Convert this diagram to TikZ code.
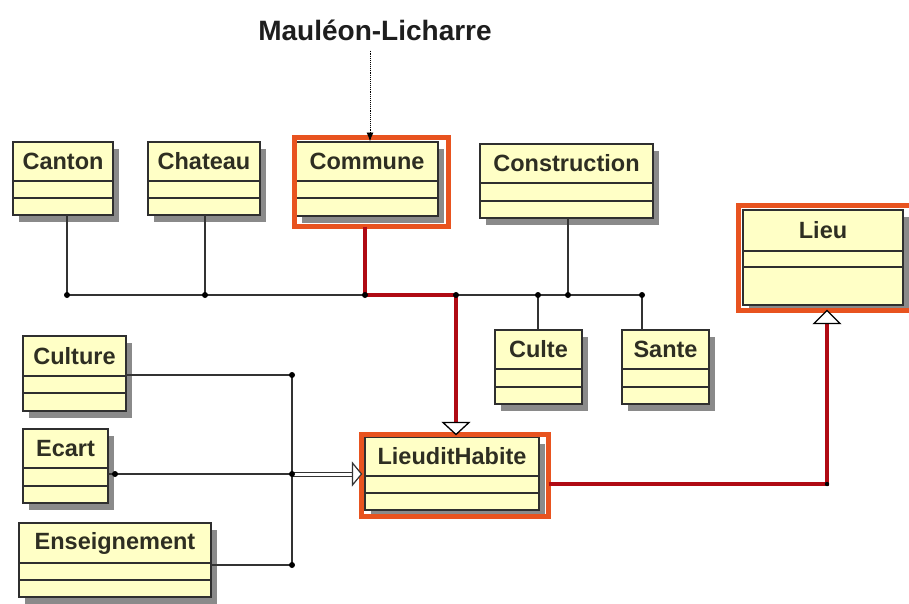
\documentclass[tikz,border=0pt]{standalone}
\usepackage{fontspec}
\setmainfont{Liberation Sans}
\usetikzlibrary{arrows.meta,calc}
\definecolor{boxfill}{HTML}{FFFFC6}
\definecolor{boxline}{HTML}{2F2F2F}
\definecolor{shadowc}{HTML}{8A8A8A}
\definecolor{frameorange}{HTML}{E8531F}
\definecolor{linkred}{HTML}{B00A14}
\definecolor{linkgray}{HTML}{333333}
\definecolor{labelc}{HTML}{2E2E22}
\definecolor{titlec}{HTML}{1E1E1E}
% name, x1, y1, x2, y2, divider1, divider2, label
\newcommand\umlclass[8]{%
  \fill[shadowc] (#2+6,#3+7) rectangle (#4+6,#5+7);
  \node[clsbox, anchor=north west, minimum width={(#4-#2)*1pt}, minimum height={(#5-#3)*1pt}] (#1) at (#2,#3) {};
  \draw[clsline] (#2,#6) -- (#4,#6) (#2,#7) -- (#4,#7);
  \node[clslabel] (#1-label) at ({(#2+#4)/2},{(#3+#6)/2}) {#8};
}
\begin{document}
\begin{tikzpicture}[x=1pt,y=-1pt,
  clsbox/.style={draw=boxline, fill=boxfill, line width=1.4pt, inner sep=0pt, outer sep=0pt},
  clsline/.style={draw=boxline, line width=1.4pt},
  clslabel/.style={font=\fontsize{23.5}{26}\selectfont\bfseries, text=labelc, inner sep=0pt},
  hiframe/.style={draw=frameorange, line width=4.5pt, inner sep=0pt, outer sep=0pt},
  glink/.style={draw=linkgray, line width=1.5pt},
  rlink/.style={draw=linkred, line width=4pt},
  junction/.style={fill=black},
]
\useasboundingbox (0,0) rectangle (909,603);
\fill[white] (0,0) rectangle (909,603);

% title
\node[font=\fontsize{28}{32}\selectfont\bfseries, text=titlec, inner sep=0pt] (title) at (375,30) {Mauléon-Licharre};

% classes
\umlclass{canton}{13}{142}{113}{215}{181}{198}{Canton}
\umlclass{chateau}{148}{142}{260}{215}{181}{198}{Chateau}
\umlclass{commune}{296}{142}{438}{216}{181}{198}{Commune}
\umlclass{construction}{480}{144}{653}{218}{183}{201}{Construction}
\umlclass{lieu}{743}{210}{903}{305}{251}{267}{Lieu}
\umlclass{culte}{495}{330}{582}{404}{369}{387}{Culte}
\umlclass{sante}{622}{330}{709}{404}{369}{387}{Sante}
\umlclass{culture}{23}{336}{126}{411}{376}{393}{Culture}
\umlclass{ecart}{23}{429}{108}{503}{468}{486}{Ecart}
\umlclass{enseignement}{19}{523}{211}{597}{563}{580}{Enseignement}
\umlclass{lieudit}{365}{437}{539}{510}{476}{493}{LieuditHabite}

% highlight frames
\node[hiframe, anchor=north west, minimum width=154pt, minimum height=89pt] (communeF) at (294.5,137.5) {};
\node[hiframe, anchor=north west, minimum width=175pt, minimum height=105pt] (lieuF) at (738.5,205.5) {};
\node[hiframe, anchor=north west, minimum width=187pt, minimum height=82pt] (lieuditF) at (361.5,434.5) {};

% junction coordinates
\coordinate (jA) at (67,295);
\coordinate (jB) at (205,295);
\coordinate (jC) at (365,295);
\coordinate (jD) at (456,295);
\coordinate (jE) at (538,295);
\coordinate (jF) at (568,295);
\coordinate (jG) at (642,295);
\coordinate (jH) at (827,484);
\coordinate (jL1) at (292,375);
\coordinate (jL2) at (292,474);
\coordinate (jL3) at (292,565);
\coordinate (eDot) at (115,474);
\coordinate (ax) at (370,0);

% grey bus (top group)
\draw[glink] (jA) -- (jG);
\draw[glink] (jA |- canton.south) -- (jA);
\draw[glink] (jB |- chateau.south) -- (jB);
\draw[glink] (jF |- construction.south) -- (jF);
\draw[glink] (jE) -- (jE |- culte.north);
\draw[glink] (jG) -- (jG |- sante.north);

% red inheritance Commune -> LieuditHabite
\draw[rlink] (jC |- communeF.south) -- (jC) -- (jD) -- ([yshift=12pt]jD |- lieuditF.north);
\draw[black, line width=1.3pt, fill=white] (jD |- lieuditF.north) -- ++(-13,-12) -- ++(26,0) -- cycle;

% red inheritance LieuditHabite -> Lieu
\draw[rlink] (lieuditF.east |- jH) -- (jH) -- ([yshift=-13pt]jH |- lieuF.south);
\draw[black, line width=1.3pt, fill=white] (jH |- lieuF.south) -- ++(-13,13) -- ++(26,0) -- cycle;

% left group
\draw[glink] (culture.east |- jL1) -- (jL1);
\draw[glink] (ecart.east |- jL2) -- (jL2);
\draw[glink] (enseignement.east |- jL3) -- (jL3);
\draw[glink] (jL1) -- (jL3);
\draw[draw=linkgray, line width=1pt, double=white, double distance=3pt] (jL2) -- ([xshift=-9pt]lieuditF.west |- jL2);
\draw[draw=linkgray, line width=1.2pt, fill=white] (lieuditF.west |- jL2) -- ++(-9,-11) -- ++(0,22) -- cycle;

% junction dots
\foreach \j in {jA,jB,jC,jD,jE,jF,jG,jL1,jL2,jL3,eDot}
  \fill[junction] (\j) circle (3pt);
\fill[junction] (jH) circle (2.2pt);

% annotation arrow
\draw[densely dotted, line width=0.9pt, -{Latex[length=9pt,width=7pt]}] ([yshift=-10pt]title.south -| ax) -- ([yshift=-4pt]ax |- communeF.north);
\end{tikzpicture}
\end{document}
